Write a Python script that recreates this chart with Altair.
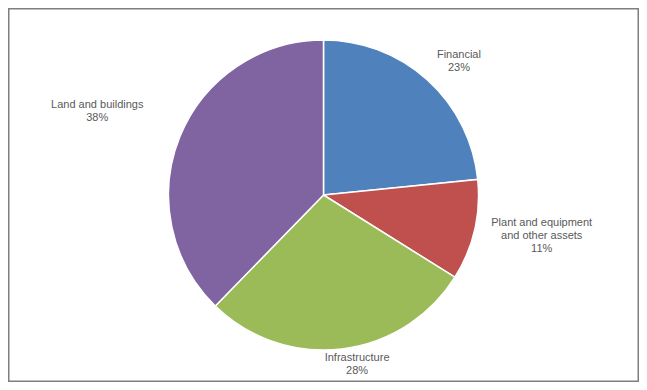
import altair as alt
import pandas as pd

categories = ["Financial", "Plant and equipment\nand other assets", "Infrastructure", "Land and buildings"]
values = [23.4, 10.5, 28.4, 37.7]
pct_labels = ["23%", "11%", "28%", "38%"]
colors = ["#4F81BD", "#C0504D", "#9BBB59", "#8064A2"]

W, H = 631, 374
total = sum(values)

df = pd.DataFrame({
    "category": categories,
    "value": values,
    "order": list(range(len(categories))),
    "label": [c + "\n" + p for c, p in zip(categories, pct_labels)],
})

base = alt.Chart(df)

pie = base.mark_arc(radius=155, stroke="white", strokeWidth=1.5).encode(
    theta=alt.Theta("value:Q", stack=True, scale=alt.Scale(domain=[0, total])),
    color=alt.Color("category:N", scale=alt.Scale(domain=categories, range=colors), legend=None),
    order=alt.Order("order:Q"),
)

# label placement per slice (radius, dx, dy)
label_style = {
    categories[0]: (190, 8, 0.5),
    categories[1]: (222, 2, -22),
    categories[2]: (173, 13, -8.5),
    categories[3]: (241, -3, 0.5),
}

text_base = base.transform_window(
    cum="sum(value)", sort=[alt.SortField("order")], frame=[None, 0]
).transform_calculate(mid="datum.cum - datum.value / 2")

layers = [pie]
for cat, (r, dx, dy) in label_style.items():
    layers.append(
        text_base.transform_filter(alt.datum.category == cat).mark_text(
            font="Liberation Sans", fontSize=11, color="#595959",
            lineBreak="\n", lineHeight=13, align="center", baseline="middle",
            dx=dx, dy=dy,
        ).encode(
            theta=alt.Theta("mid:Q", stack=False, scale=alt.Scale(domain=[0, total])),
            radius=alt.value(r),
            text="label:N",
        )
    )

border = alt.Chart(pd.DataFrame({"a": [0]})).mark_rect(
    fillOpacity=0, stroke="#7f7f7f", strokeWidth=1.5
).encode(
    x=alt.value(0.75), x2=alt.value(W - 0.75),
    y=alt.value(0.75), y2=alt.value(H - 0.75),
)
layers.append(border)

chart = alt.layer(*layers).properties(
    width=W, height=H, autosize=alt.AutoSizeParams(type="none"), padding=0,
    background="white",
).configure_view(stroke=None)

chart.save("out.html", embed_options={"renderer": "svg", "actions": False})
